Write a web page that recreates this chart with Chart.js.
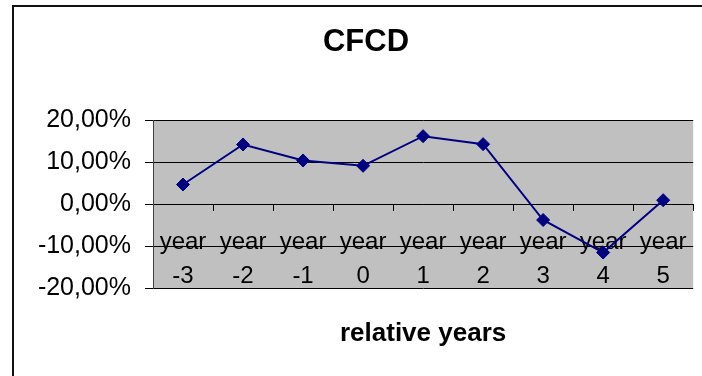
<!DOCTYPE html>
<html>
<head>
<meta charset="utf-8">
<script src="https://cdn.jsdelivr.net/npm/chart.js@4/dist/chart.umd.min.js"></script>
<style>
  html, body { margin: 0; padding: 0; background: #fff; overflow: hidden; }
  #frame { position: absolute; left: 12px; top: 5px; width: 800px; height: 500px;
           border-left: 2px solid #111; border-top: 2px solid #111; }
  #wrap { position: absolute; left: 0; top: 0; width: 702px; height: 376px; }
</style>
</head>
<body>
<div id="frame"></div>
<div id="wrap"><canvas id="chart"></canvas></div>
<script>
// Relative years around the event and the CFCD value (in %) for each one
const yearOffsets = [-3, -2, -1, 0, 1, 2, 3, 4, 5];
const cfcdValues = [4.64, 14.17, 10.36, 9.09, 16.15, 14.25, -3.81, -11.55, 0.91];
const yTickValues = [-20, -10, 0, 10, 20];

const chartTitle = 'CFCD';
const xAxisTitle = 'relative years';

// two-line category labels: "year" above the offset
const categories = yearOffsets.map(n => ['year', String(n)]);

const fmtPct = v => v.toFixed(2).replace('.', ',') + '%';

// grey plot-area background
const plotBackground = {
  id: 'plotBackground',
  beforeDraw(chart) {
    const { ctx, chartArea: a } = chart;
    ctx.save();
    ctx.fillStyle = '#c0c0c0';
    ctx.fillRect(a.left, a.top, a.right - a.left, a.bottom - a.top);
    ctx.restore();
  }
};

const font = "'Liberation Sans', Arial, sans-serif";

new Chart(document.getElementById('chart'), {
  type: 'line',
  data: {
    labels: categories,
    datasets: [{
      data: cfcdValues,
      borderColor: '#000080',
      backgroundColor: '#000080',
      borderWidth: 2,
      pointStyle: 'rectRot',
      pointRadius: 6.5,
      pointBorderWidth: 1,
      tension: 0
    }]
  },
  options: {
    responsive: true,
    maintainAspectRatio: false,
    animation: false,
    layout: { padding: { left: 33, right: 3, top: 0, bottom: 0 } },
    plugins: {
      legend: { display: false },
      tooltip: { enabled: false },
      title: {
        display: true,
        text: chartTitle,
        color: '#000',
        font: { family: font, size: 31, weight: 'bold', lineHeight: 1.2 },
        padding: { top: 24, bottom: 58.8 }
      },
      subtitle: {
        display: true,
        position: 'bottom',
        fullSize: false,
        text: xAxisTitle,
        color: '#000',
        font: { family: font, size: 26, weight: 'bold', lineHeight: 1.2 },
        padding: { top: 30, bottom: 26.8 }
      }
    },
    scales: {
      x: {
        type: 'category',
        position: { y: 0 },
        offset: true,
        grid: {
          offset: true,
          drawOnChartArea: false,
          drawTicks: true,
          tickLength: 6,
          color: '#000',
          lineWidth: 1
        },
        border: { display: true, color: '#000', width: 1 },
        ticks: {
          color: '#000',
          font: { family: font, size: 24, lineHeight: 34 / 24 },
          padding: 15,
          autoSkip: false,
          maxRotation: 0,
          minRotation: 0
        }
      },
      y: {
        min: -20,
        max: 20,
        afterBuildTicks(scale) {
          scale.ticks = yTickValues.map(v => ({ value: v }));
        },
        afterFit(scale) { scale.width = 120; },
        grid: {
          color: '#000',
          lineWidth: 1,
          drawTicks: true,
          tickLength: 8
        },
        border: { display: true, color: '#404040', width: 1 },
        ticks: {
          color: '#000',
          font: { family: font, size: 25 },
          padding: 14,
          callback: v => fmtPct(v)
        }
      }
    }
  },
  plugins: [plotBackground]
});
</script>
</body>
</html>
